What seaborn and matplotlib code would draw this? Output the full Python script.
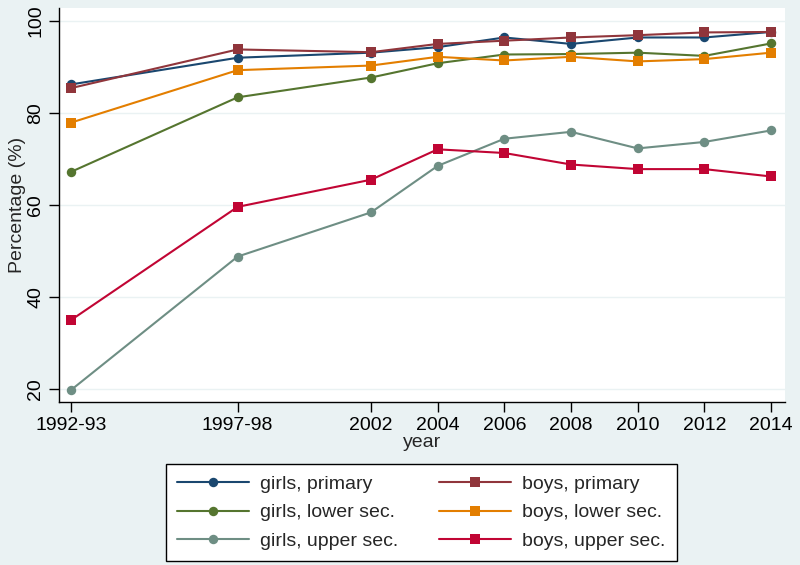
import matplotlib
matplotlib.use("Agg")
import matplotlib.pyplot as plt
import numpy as np
import pandas as pd
import seaborn as sns

# x positions are numeric years, tick labels keep the survey rounds
years = [1993, 1998, 2002, 2004, 2006, 2008, 2010, 2012, 2014]
year_labels = ["1992-93", "1997-98", "2002", "2004", "2006", "2008", "2010", "2012", "2014"]

girls_primary = [86.2, 92.0, 93.1, 94.3, 96.4, 95.0, 96.4, 96.4, 97.6]
boys_primary = [85.4, 93.8, 93.2, 95.0, 95.7, 96.4, 96.9, 97.5, 97.6]
girls_lower = [67.2, 83.4, 87.7, 90.8, 92.7, 92.8, 93.1, 92.4, 95.1]
boys_lower = [77.9, 89.3, 90.3, 92.2, 91.4, 92.2, 91.2, 91.7, 93.1]
girls_upper = [19.8, 48.8, 58.4, 68.5, 74.4, 75.9, 72.3, 73.7, 76.2]
boys_upper = [35.0, 59.6, 65.5, 72.1, 71.3, 68.8, 67.8, 67.8, 66.2]

series = [
    ("girls, primary", girls_primary, "#1a476f", "o"),
    ("girls, lower sec.", girls_lower, "#55752f", "o"),
    ("girls, upper sec.", girls_upper, "#6e8e84", "o"),
    ("boys, primary", boys_primary, "#90353b", "s"),
    ("boys, lower sec.", boys_lower, "#e37e00", "s"),
    ("boys, upper sec.", boys_upper, "#c10534", "s"),
]

bg = "#eaf2f3"
sns.set_style("white")
plt.rcParams["font.family"] = ["Liberation Sans", "DejaVu Sans"]

fig = plt.figure(figsize=(8, 5.65), dpi=100, facecolor=bg)
ax = fig.add_axes([0.07375, 0.2885, 0.9075, 0.6973])
ax.set_facecolor("white")

# draw in stata order so boys lines sit on top like the original
draw_order = [0, 3, 1, 4, 2, 5]
for i in draw_order:
    name, vals, col, mk = series[i]
    df = pd.DataFrame({"year": years, "pct": vals})
    sns.lineplot(data=df, x="year", y="pct", ax=ax, color=col, marker=mk,
                 markersize=6.8, markeredgewidth=0, linewidth=1.5, label=name)

ax.set_xlim(1992.64, 2014.42)
ax.set_ylim(17.2, 102.8)
ax.set_xticks(years)
ax.set_xticklabels(year_labels)
ax.set_yticks([20, 40, 60, 80, 100])
ax.set_yticklabels(["20", "40", "60", "80", "100"], rotation=90, va="center")
ax.yaxis.grid(True, color=bg, linewidth=1)
ax.xaxis.grid(False)
ax.tick_params(axis="both", labelsize=14, length=7, width=1, direction="out",
               bottom=True, left=True, colors="black")
for side in ["top", "right"]:
    ax.spines[side].set_visible(False)
for side in ["left", "bottom"]:
    ax.spines[side].set_color("black")
    ax.spines[side].set_linewidth(1)

ax.set_xlabel("year", fontsize=14, labelpad=0)
ax.set_ylabel("Percentage (%)", fontsize=14, labelpad=1)

handles, labels = ax.get_legend_handles_labels()
lookup = dict(zip(labels, handles))
names = [s[0] for s in series]
leg = ax.legend([lookup[n] for n in names], names, ncol=2, fontsize=14,
                loc="center", bbox_to_anchor=(0.5263, 0.0929),
                bbox_transform=fig.transFigure, frameon=True, fancybox=False,
                edgecolor="black", facecolor="white", framealpha=1,
                numpoints=1, handlelength=3.7, handletextpad=0.55,
                columnspacing=2.1, labelspacing=0.56, borderpad=0.6)
leg.get_frame().set_linewidth(1)

fig.savefig("out.png", dpi=100, facecolor=bg)
